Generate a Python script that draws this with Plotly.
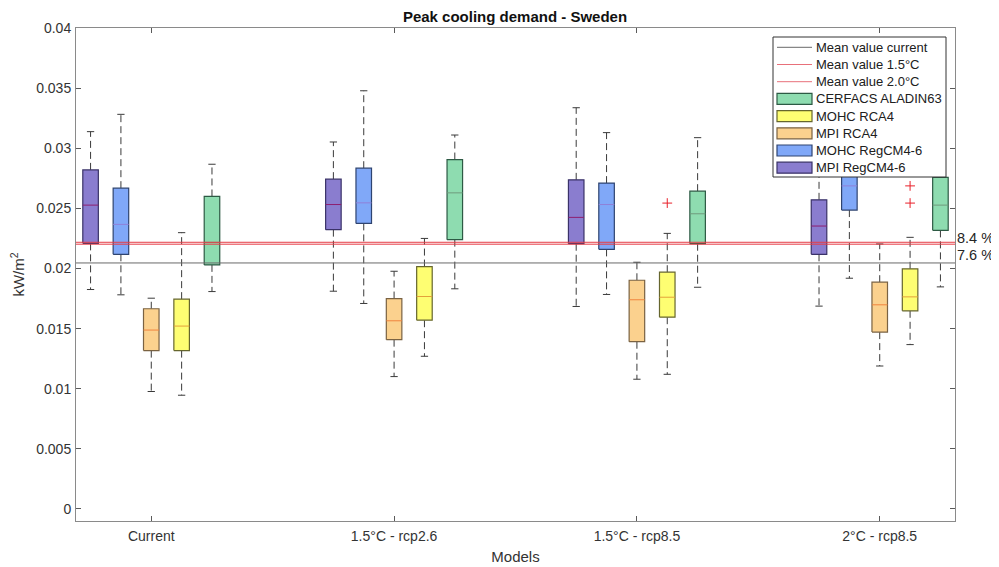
import plotly.graph_objects as go

# ---------------- data ----------------
scenarios = ["Current", "1.5°C - rcp2.6", "1.5°C - rcp8.5", "2°C - rcp8.5"]
models = ["MPI RegCM4-6", "MOHC RegCM4-6", "MPI RCA4", "MOHC RCA4", "CERFACS ALADIN63"]

mpi_regcm_upper = [0.03138, 0.03052, 0.03337, 0.0305]
mpi_regcm_q3 = [0.0282, 0.02743, 0.02737, 0.02571]
mpi_regcm_med = [0.02527, 0.02532, 0.02425, 0.02353]
mpi_regcm_q1 = [0.02209, 0.02323, 0.02206, 0.02118]
mpi_regcm_lower = [0.01825, 0.01811, 0.01684, 0.01687]

mohc_regcm_upper = [0.03282, 0.03478, 0.0313, 0.0335]
mohc_regcm_q3 = [0.02668, 0.02834, 0.0271, 0.0292]
mohc_regcm_med = [0.02367, 0.02546, 0.02532, 0.02687]
mohc_regcm_q1 = [0.02118, 0.02375, 0.02159, 0.02486]
mohc_regcm_lower = [0.01781, 0.01709, 0.01784, 0.01919]

mpi_rca_upper = [0.01753, 0.01977, 0.02052, 0.02204]
mpi_rca_q3 = [0.01665, 0.0175, 0.01902, 0.01886]
mpi_rca_med = [0.01488, 0.01565, 0.0174, 0.01698]
mpi_rca_q1 = [0.01317, 0.01408, 0.01391, 0.01471]
mpi_rca_lower = [0.00977, 0.01101, 0.01079, 0.01189]

mohc_rca_upper = [0.02298, 0.0225, 0.02292, 0.02259]
mohc_rca_q3 = [0.01745, 0.02016, 0.01969, 0.01997]
mohc_rca_med = [0.01521, 0.01767, 0.01761, 0.01764]
mohc_rca_q1 = [0.01317, 0.0157, 0.01595, 0.01648]
mohc_rca_lower = [0.00946, 0.0127, 0.0112, 0.01367]
mohc_rca_outliers = [[], [], [0.02544], [0.02687, 0.02544]]

cerfacs_upper = [0.02867, 0.0311, 0.03088, 0.0310]
cerfacs_q3 = [0.02599, 0.02906, 0.02643, 0.02757]
cerfacs_med = [0.02217, 0.02629, 0.02455, 0.02527]
cerfacs_q1 = [0.0203, 0.0224, 0.02206, 0.02317]
cerfacs_lower = [0.01808, 0.01831, 0.01844, 0.01847]

mean_current = 0.02046
mean_15 = 0.02202
mean_20 = 0.02218

legend_labels = ["Mean value current", "Mean value 1.5°C", "Mean value 2.0°C",
                 "CERFACS ALADIN63", "MOHC RCA4", "MPI RCA4", "MOHC RegCM4-6", "MPI RegCM4-6"]

# ---------------- styling ----------------
FONT = "Liberation Sans, Arial, Helvetica, sans-serif"
fills = ["#8a7dcf", "#80a8f8", "#fbd18e", "#fefe72", "#8edcb0"]
edges = ["#3a3268", "#2f4470", "#7a6242", "#66662e", "#2d5a44"]
medcols = ["#8e1f70", "#8f80d8", "#f0843e", "#e3a23a", "#6f9a7c"]
grey_line = "#6a6a6a"
red_line = "#e63c46"
offsets = [-0.25, -0.125, 0.0, 0.125, 0.25]
half_w = 0.032
cap_w = 0.015
x_range = [0.69, 4.31]
y_range = [-0.001, 0.04]

# page body has an 8px margin: figure is placed at (8, 8)
FIG_W, FIG_H = 991, 559
M_L, M_R, M_T, M_B = 68, 44, 20, 46
PLOT_W = FIG_W - M_L - M_R
PLOT_H = FIG_H - M_T - M_B
PAGE_OFF = 8


def px(xp):
    return (xp - PAGE_OFF - M_L) / PLOT_W


def py(yp):
    return (FIG_H - M_B - (yp - PAGE_OFF)) / PLOT_H


stats = [
    (mpi_regcm_upper, mpi_regcm_q3, mpi_regcm_med, mpi_regcm_q1, mpi_regcm_lower),
    (mohc_regcm_upper, mohc_regcm_q3, mohc_regcm_med, mohc_regcm_q1, mohc_regcm_lower),
    (mpi_rca_upper, mpi_rca_q3, mpi_rca_med, mpi_rca_q1, mpi_rca_lower),
    (mohc_rca_upper, mohc_rca_q3, mohc_rca_med, mohc_rca_q1, mohc_rca_lower),
    (cerfacs_upper, cerfacs_q3, cerfacs_med, cerfacs_q1, cerfacs_lower),
]

fig = go.Figure()

# whiskers (dashed) and caps (solid)
wx, wy, cx, cy = [], [], [], []
for mi, (up, q3, md, q1, lo) in enumerate(stats):
    for si in range(len(scenarios)):
        xc = si + 1 + offsets[mi]
        wx += [xc, xc, None, xc, xc, None]
        wy += [q3[si], up[si], None, q1[si], lo[si], None]
        cx += [xc - cap_w, xc + cap_w, None, xc - cap_w, xc + cap_w, None]
        cy += [up[si], up[si], None, lo[si], lo[si], None]
fig.add_trace(go.Scatter(x=wx, y=wy, mode="lines", showlegend=False, hoverinfo="skip",
                         line=dict(color="#3a3a3a", width=1, dash="7px,4px")))
fig.add_trace(go.Scatter(x=cx, y=cy, mode="lines", showlegend=False, hoverinfo="skip",
                         line=dict(color="#3a3a3a", width=1)))

# boxes
for mi, (up, q3, md, q1, lo) in enumerate(stats):
    bx, by, mx, my = [], [], [], []
    for si in range(len(scenarios)):
        xc = si + 1 + offsets[mi]
        bx += [xc - half_w, xc + half_w, xc + half_w, xc - half_w, xc - half_w, None]
        by += [q1[si], q1[si], q3[si], q3[si], q1[si], None]
        mx += [xc - half_w, xc + half_w, None]
        my += [md[si], md[si], None]
    fig.add_trace(go.Scatter(x=bx, y=by, mode="lines", fill="toself", fillcolor=fills[mi],
                             line=dict(color=edges[mi], width=1.2), name=models[mi],
                             showlegend=False, hoverinfo="skip"))
    fig.add_trace(go.Scatter(x=mx, y=my, mode="lines", showlegend=False, hoverinfo="skip",
                             line=dict(color=medcols[mi], width=1)))

# outliers
ox, oy = [], []
for si, vals in enumerate(mohc_rca_outliers):
    for v in vals:
        ox.append(si + 1 + offsets[3])
        oy.append(v)
fig.add_trace(go.Scatter(x=ox, y=oy, mode="markers", showlegend=False, hoverinfo="skip",
                         marker=dict(symbol="cross-thin", size=7,
                                     line=dict(color="#e8202a", width=1))))

# mean lines
fig.add_trace(go.Scatter(x=x_range, y=[mean_current] * 2, mode="lines", name=legend_labels[0],
                         line=dict(color=grey_line, width=1), showlegend=False, hoverinfo="skip"))
fig.add_trace(go.Scatter(x=x_range, y=[mean_15] * 2, mode="lines", name=legend_labels[1],
                         line=dict(color=red_line, width=1), showlegend=False, hoverinfo="skip"))
fig.add_trace(go.Scatter(x=x_range, y=[mean_20] * 2, mode="lines", name=legend_labels[2],
                         line=dict(color=red_line, width=1), showlegend=False, hoverinfo="skip"))

pct_20 = (mean_20 / mean_current - 1) * 100
pct_15 = (mean_15 / mean_current - 1) * 100
fig.add_annotation(x=1.0, xref="paper", y=mean_20, yref="y", text=f"{pct_20:.1f} %",
                   showarrow=False, xanchor="left", yanchor="middle", xshift=0, yshift=4,
                   font=dict(size=14.5, color="#262626", family=FONT))
fig.add_annotation(x=1.0, xref="paper", y=mean_15, yref="y", text=f"{pct_15:.1f} %",
                   showarrow=False, xanchor="left", yanchor="middle", xshift=0, yshift=-10.5,
                   font=dict(size=14.5, color="#262626", family=FONT))

# ---------------- manual legend (MATLAB style) ----------------
LEG_L, LEG_R, LEG_T, LEG_B = 773, 946, 37, 177
ROW0, ROW_STEP = 47.3, 17.2
SYM_L, SYM_R, TXT_X = 777, 812, 814
shapes = [dict(type="rect", xref="paper", yref="paper", layer="above",
               x0=px(LEG_L), x1=px(LEG_R), y0=py(LEG_B), y1=py(LEG_T),
               fillcolor="white", line=dict(color="#333333", width=1))]
legend_kinds = [("line", grey_line, None), ("line", "#e8707a", None), ("line", "#e8707a", None),
                ("rect", fills[4], edges[4]), ("rect", fills[3], edges[3]), ("rect", fills[2], edges[2]),
                ("rect", fills[1], edges[1]), ("rect", fills[0], edges[0])]
for i, (label, (kind, c1, c2)) in enumerate(zip(legend_labels, legend_kinds)):
    yc = ROW0 + ROW_STEP * i
    if kind == "line":
        shapes.append(dict(type="line", xref="paper", yref="paper", layer="above",
                           x0=px(SYM_L), x1=px(SYM_R), y0=py(yc), y1=py(yc),
                           line=dict(color=c1, width=1)))
    else:
        shapes.append(dict(type="rect", xref="paper", yref="paper", layer="above",
                           x0=px(SYM_L), x1=px(SYM_R), y0=py(yc + 5.5), y1=py(yc - 5.5),
                           fillcolor=c1, line=dict(color=c2, width=1.2)))
    fig.add_annotation(x=px(TXT_X), xref="paper", y=py(yc), yref="paper", text=label,
                       showarrow=False, xanchor="left", yanchor="middle",
                       font=dict(size=13, color="#202020", family=FONT))

axis_common = dict(showline=True, linecolor="#8a8a8a", linewidth=1, mirror="allticks",
                   ticks="inside", ticklen=5, tickcolor="#5a5a5a", showgrid=False,
                   zeroline=False, automargin=False,
                   tickfont=dict(size=14, color="#333333", family=FONT))

fig.update_layout(
    width=FIG_W, height=FIG_H,
    paper_bgcolor="white", plot_bgcolor="white",
    margin=dict(l=M_L, r=M_R, t=M_T, b=M_B),
    shapes=shapes,
    showlegend=False,
    title=dict(text="<b>Peak cooling demand - Sweden</b>", x=(515 - PAGE_OFF) / FIG_W, xanchor="center",
               y=1 - (17 - PAGE_OFF) / FIG_H, yanchor="middle",
               font=dict(size=15, color="#111111", family=FONT)),
    xaxis=dict(range=x_range, tickvals=[1, 2, 3, 4], ticktext=scenarios, ticklabelstandoff=2,
               title=dict(text="Models", standoff=8, font=dict(size=15, color="#333333", family=FONT)),
               **axis_common),
    yaxis=dict(range=y_range, tickvals=[0, 0.005, 0.01, 0.015, 0.02, 0.025, 0.03, 0.035, 0.04],
               ticktext=["0", "0.005", "0.01", "0.015", "0.02", "0.025", "0.03", "0.035", "0.04"],
               ticklabelstandoff=1,
               title=dict(text="kW/m<sup>2</sup>", standoff=9, font=dict(size=15, color="#333333", family=FONT)),
               **axis_common),
)

fig.write_html("out.html")
